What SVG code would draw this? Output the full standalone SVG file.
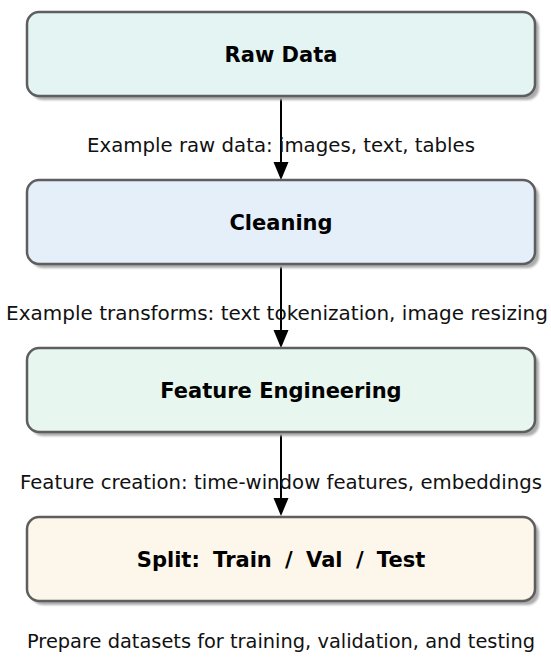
<svg xmlns="http://www.w3.org/2000/svg" width="551" height="662" viewBox="0 0 551 662">
  <defs>
    <filter id="soft" x="-5%" y="-20%" width="110%" height="140%">
      <feGaussianBlur stdDeviation="1"/>
    </filter>
  </defs>
  <style>
    .shadow { fill: #ababab; filter: url(#soft); }
    .box { stroke: #5e5e5e; stroke-width: 2.5; }
    .title { font-family: "DejaVu Sans", "Liberation Sans", sans-serif; font-weight: bold; font-size: 21px; fill: #000; text-anchor: middle; }
    .label { font-family: "DejaVu Sans", "Liberation Sans", sans-serif; font-size: 19.5px; fill: #111; text-anchor: middle; }
    .edge { stroke: #000; stroke-width: 2; fill: none; }
    .head { fill: #000; }
  </style>
  <rect width="551" height="662" fill="#fff"/>

  <g id="connectors">
    <line class="edge" x1="281" y1="97" x2="281" y2="163"/>
    <path class="head" d="M273.5,162 L288.5,162 L281,180 Z"/>
    <line class="edge" x1="281" y1="265" x2="281" y2="331"/>
    <path class="head" d="M273.5,330 L288.5,330 L281,348 Z"/>
    <line class="edge" x1="281" y1="433" x2="281" y2="499"/>
    <path class="head" d="M273.5,498 L288.5,498 L281,516 Z"/>
  </g>

  <g id="raw-data">
    <rect class="shadow" x="31" y="16" width="508" height="84" rx="12"/>
    <rect class="box" x="27" y="12" width="508" height="84" rx="12" fill="#e3f4f3"/>
    <text class="title" x="281" y="62">Raw Data</text>
  </g>

  <g id="cleaning">
    <rect class="shadow" x="31" y="184" width="508" height="84" rx="12"/>
    <rect class="box" x="27" y="180" width="508" height="84" rx="12" fill="#e5eff9"/>
    <text class="title" x="281" y="230">Cleaning</text>
  </g>

  <g id="feature-engineering">
    <rect class="shadow" x="31" y="352" width="508" height="84" rx="12"/>
    <rect class="box" x="27" y="348" width="508" height="84" rx="12" fill="#e7f6ee"/>
    <text class="title" x="281" y="398">Feature Engineering</text>
  </g>

  <g id="split">
    <rect class="shadow" x="31" y="521" width="508" height="84" rx="12"/>
    <rect class="box" x="27" y="517" width="508" height="84" rx="12" fill="#fdf6ea"/>
    <text class="title" x="281" y="567" word-spacing="6">Split: Train / Val / Test</text>
  </g>

  <g id="labels">
    <text class="label" x="281" y="152" textLength="388" lengthAdjust="spacingAndGlyphs">Example raw data: images, text, tables</text>
    <text class="label" x="277" y="320" textLength="542" lengthAdjust="spacingAndGlyphs">Example transforms: text tokenization, image resizing</text>
    <text class="label" x="281" y="489" textLength="522" lengthAdjust="spacingAndGlyphs">Feature creation: time-window features, embeddings</text>
    <text class="label" x="281" y="648" textLength="508" lengthAdjust="spacingAndGlyphs">Prepare datasets for training, validation, and testing</text>
  </g>
</svg>
